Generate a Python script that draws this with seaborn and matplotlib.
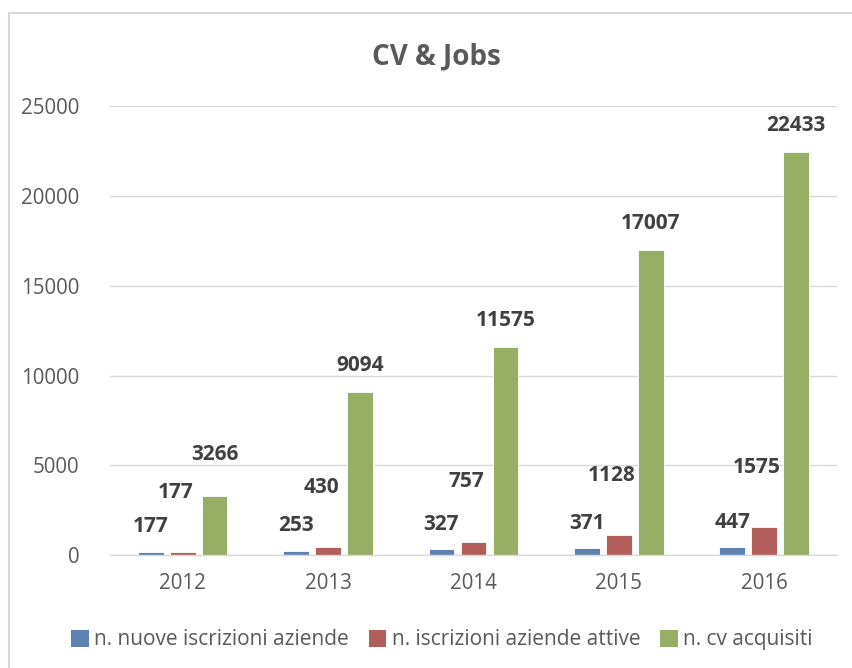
import matplotlib
matplotlib.use("Agg")
import matplotlib.pyplot as plt
from matplotlib.patches import Rectangle
import seaborn as sns
import pandas as pd

# dati del grafico
anni = ["2012", "2013", "2014", "2015", "2016"]
nuove_iscrizioni = [177, 253, 327, 371, 447]
iscrizioni_attive = [177, 430, 757, 1128, 1575]
cv_acquisiti = [3266, 9094, 11575, 17007, 22433]
serie = ["n. nuove iscrizioni aziende", "n. iscrizioni aziende attive", "n. cv acquisiti"]
colori = ["#4F81BD", "#C0504D", "#9BBB59"]

sns.set_style("white")
plt.rcParams["font.family"] = ["Open Sans", "DejaVu Sans"]

# long form for seaborn
rows = []
for nome, valori in zip(serie, [nuove_iscrizioni, iscrizioni_attive, cv_acquisiti]):
    for a, v in zip(anni, valori):
        rows.append({"anno": a, "serie": nome, "valore": v})
df = pd.DataFrame(rows)

fig = plt.figure(figsize=(8.53, 6.68), dpi=100)
ax = fig.add_axes([0.129, 0.169, 0.852, 0.672])

sns.barplot(data=df, x="anno", y="valore", hue="serie", hue_order=serie,
            palette=colori, width=0.66, gap=0.2, edgecolor="white",
            linewidth=0.6, ax=ax, legend=True)

ax.set_ylim(0, 25000)
ax.set_yticks(range(0, 25001, 5000))
ax.set_xlim(-0.5, 4.5)
ax.yaxis.grid(True, color="#D9D9D9", linewidth=1)
ax.set_axisbelow(True)
for s in ["left", "right", "top"]:
    ax.spines[s].set_visible(False)
ax.spines["bottom"].set_color("#D9D9D9")
ax.spines["bottom"].set_linewidth(1)
ax.set_xlabel("")
ax.set_ylabel("")
ax.tick_params(axis="both", length=0, labelsize=14.8, colors="#595959")
ax.tick_params(axis="x", pad=13)
ax.tick_params(axis="y", pad=22)

# etichette dei valori (offset in punti sopra la barra)
offsets = [18, 43, 19]
dx = [0, -5, 0]
label_y = {}
for i, cont in enumerate(ax.containers):
    for j, bar in enumerate(cont):
        h = bar.get_height()
        off = offsets[i]
        top_pt = h / 25000 * ax.bbox.height / fig.dpi * 72
        if i == 2 and j in label_y:
            # evita sovrapposizione con etichetta rossa
            off = max(off, label_y[j] + 27 - top_pt)
        if i == 1:
            label_y[j] = top_pt + off
        ax.annotate(str(int(h)), (bar.get_x() + bar.get_width() / 2, h),
                    xytext=(dx[i], off), textcoords="offset points",
                    ha="center", va="center", fontsize=15, fontweight="bold",
                    color="#404040")

handles, labels = ax.get_legend_handles_labels()
ax.get_legend().remove()
for hnd in handles:
    hnd.set_edgecolor("none")
fig.legend(handles, labels, loc="center", bbox_to_anchor=(0.518, 0.042), ncol=3,
           frameon=False, fontsize=15, handlelength=0.85, handleheight=0.85,
           handletextpad=0.25, columnspacing=0.95, labelcolor="#595959")

fig.text(0.512, 0.915, "CV & Jobs", ha="center", va="center", fontsize=20,
         fontweight="bold", color="#595959")

# bordo del grafico (solo lati sinistro e superiore visibili)
border = Rectangle((8.5 / 853, -0.1), 1.2, (668 - 13.5) / 668 + 0.1,
                   transform=fig.transFigure, fill=False,
                   edgecolor="#D9D9D9", linewidth=1.5)
fig.patches.append(border)

fig.savefig("out.png", dpi=100)
